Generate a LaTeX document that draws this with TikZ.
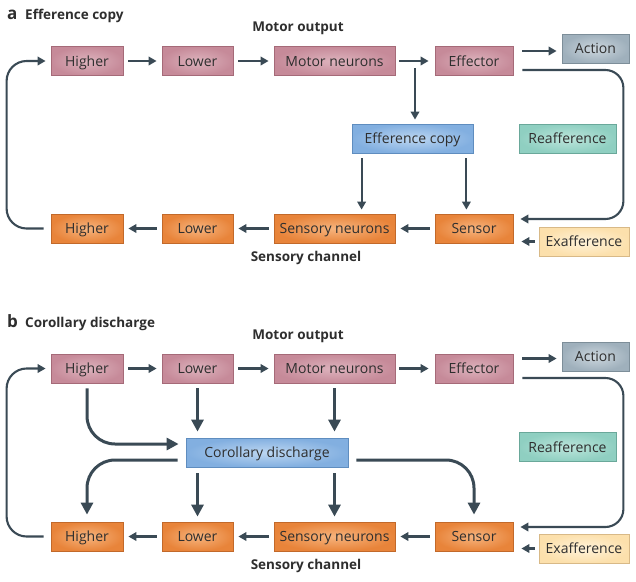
\documentclass[tikz,border=0pt]{standalone}
\usepackage{fontspec}
\setmainfont{Open Sans}
\usetikzlibrary{arrows.meta,calc}
\definecolor{ln}{HTML}{3A4A55}
\definecolor{txt}{HTML}{2E2E2E}
\definecolor{motD}{HTML}{A56A78}\definecolor{motO}{HTML}{C68A99}\definecolor{motL}{HTML}{DDB3BD}
\definecolor{senD}{HTML}{C2692A}\definecolor{senO}{HTML}{E8843A}\definecolor{senL}{HTML}{F6B47E}
\definecolor{bluD}{HTML}{5F8DBF}\definecolor{bluO}{HTML}{82AFE0}\definecolor{bluL}{HTML}{BCD6F1}
\definecolor{teaD}{HTML}{6AA89A}\definecolor{teaO}{HTML}{8FCFC1}\definecolor{teaL}{HTML}{BCE5DB}
\definecolor{creD}{HTML}{D8B987}\definecolor{creO}{HTML}{FCE0AC}\definecolor{creL}{HTML}{FFF3DA}
\definecolor{actD}{HTML}{7D8E99}\definecolor{actO}{HTML}{9FB0BC}\definecolor{actL}{HTML}{CDD7DE}
\begin{document}
\begin{tikzpicture}[x=1pt,y=-1pt,
  box/.style={draw, line width=0.8pt, minimum height=29pt, inner sep=0pt, text=txt,
    text height=10pt, text depth=0pt, font=\fontsize{14}{15}\selectfont},
  motor/.style={box, draw=motD, inner color=motL, outer color=motO},
  sens/.style={box, draw=senD, inner color=senL, outer color=senO},
  blu/.style={box, draw=bluD, inner color=bluL, outer color=bluO},
  tea/.style={box, draw=teaD, inner color=teaL, outer color=teaO},
  cre/.style={box, draw=creD, inner color=creL, outer color=creO},
  act/.style={box, draw=actD, inner color=actL, outer color=actO},
  thin/.style={draw=ln, line width=2.1pt, -{Triangle[length=8pt,width=8.5pt]}},
  thk/.style={draw=ln, line width=3pt, -{Triangle[length=12pt,width=12pt]}},
  ttl/.style={text=txt, font=\bfseries\fontsize{13.5}{14}\selectfont, inner sep=0pt},
  lett/.style={text=txt, font=\bfseries\fontsize{17}{18}\selectfont, inner sep=0pt, anchor=base west}
]
\useasboundingbox (0,0) rectangle (636,581);

% ---------------- panel a ----------------
\node[lett] (la) at (7,19) {a};
\node[ttl, anchor=base west] (ta) at (25,19) {Efference copy};
\node[ttl] (amo) at (298,28) {Motor output};
\node[ttl] (asc) at (306,258) {Sensory channel};

\node[motor, minimum width=72pt] (aah) at (87,61) {Higher};
\node[motor, minimum width=71pt] (aal) at (197.5,61) {Lower};
\node[motor, minimum width=121pt] (amn) at (334.5,61) {Motor neurons};
\node[motor, minimum width=78pt] (aef) at (474,61) {Effector};
\node[act, minimum width=67pt] (aac) at (595.5,48.5) {Action};
\node[blu, minimum width=121pt] (aec) at (412.5,138.5) {Efference copy};
\node[tea, minimum width=97pt] (are) at (567.5,138.5) {Reafference};
\node[sens, minimum width=72pt] (abh) at (87,228.5) {Higher};
\node[sens, minimum width=71pt] (abl) at (197.5,228.5) {Lower};
\node[sens, minimum width=121pt] (asn) at (334.5,228.5) {Sensory neurons};
\node[sens, minimum width=78pt] (ase) at (474,228.5) {Sensor};
\node[cre, minimum width=90pt] (aex) at (584,241.5) {Exafference};

\draw[thin, shorten <=5pt, shorten >=5pt] (aah) -- (aal);
\draw[thin, shorten <=5pt, shorten >=5pt] (aal) -- (amn);
\draw[thin, shorten <=4pt, shorten >=6pt] (amn) -- (aef);
\coordinate (aa1) at ($(aef.east)+(9,-10)$);
\draw[thin] (aa1) -- ($(aac.west |- aa1)+(-5,0)$);
\coordinate (asp) at ($(amn.east)!0.5!(aef.west)+(0,7)$);
\draw[thin, shorten >=4pt] (asp) -- (asp |- aec.north);
\draw[thin, rounded corners=18pt] ($(aef.east)+(9,9)$) -- ($(aef.east)+(110,9)$)
  -- ($(ase.east)+(110,-9.5)$) -- ($(ase.east)+(7,-9.5)$);
\draw[thin] ($(aex.west)+(-4,0)$) -- ($(ase.east |- aex)+(8,0)$);
\coordinate (aeb1) at ($(aec.south west)+(10,5)$);
\coordinate (aeb2) at ($(aec.south east)+(-7,5)$);
\draw[thin, shorten >=4pt] (aeb1) -- (aeb1 |- asn.north);
\draw[thin, shorten >=4pt] (aeb2) -- (aeb2 |- ase.north);
\draw[thin, shorten <=5pt, shorten >=5pt] (ase) -- (asn);
\draw[thin, shorten <=5pt, shorten >=5pt] (asn) -- (abl);
\draw[thin, shorten <=5pt, shorten >=5pt] (abl) -- (abh);
\draw[thin, rounded corners=20pt] ($(abh.west)+(-7,0)$) -| ($(aah.west)+(-44,0)$) -- ($(aah.west)+(-5,0)$);

% ---------------- panel b ----------------
\node[lett] (lb) at (7,327) {b};
\node[ttl, anchor=base west] (tb) at (25,327) {Corollary discharge};
\node[ttl] (bmo) at (298,336) {Motor output};
\node[ttl] (bsc) at (306,566) {Sensory channel};

\node[motor, minimum width=72pt] (bah) at (87,368.5) {Higher};
\node[motor, minimum width=71pt] (bal) at (197.5,368.5) {Lower};
\node[motor, minimum width=121pt] (bmn) at (334.5,368.5) {Motor neurons};
\node[motor, minimum width=78pt] (bef) at (474,368.5) {Effector};
\node[act, minimum width=67pt] (bac) at (595.5,356.5) {Action};
\node[blu, minimum width=162pt] (bcd) at (267,452.5) {Corollary discharge};
\node[tea, minimum width=97pt] (bre) at (567.5,447) {Reafference};
\node[sens, minimum width=72pt] (bbh) at (87,536.5) {Higher};
\node[sens, minimum width=71pt] (bbl) at (197.5,536.5) {Lower};
\node[sens, minimum width=121pt] (bsn) at (334.5,536.5) {Sensory neurons};
\node[sens, minimum width=78pt] (bse) at (474,536.5) {Sensor};
\node[cre, minimum width=90pt] (bex) at (584,548.5) {Exafference};

\draw[thin, shorten <=5pt, shorten >=5pt] (bah) -- (bal);
\draw[thin, shorten <=5pt, shorten >=5pt] (bal) -- (bmn);
\draw[thin, shorten <=4pt, shorten >=6pt] (bmn) -- (bef);
\coordinate (ba1) at ($(bef.east)+(9,-10)$);
\draw[thin] (ba1) -- ($(bac.west |- ba1)+(-5,0)$);
\draw[thin, rounded corners=18pt] ($(bef.east)+(9,9.5)$) -- ($(bef.east)+(110,9.5)$)
  -- ($(bse.east)+(110,-9.5)$) -- ($(bse.east)+(7,-9.5)$);
\draw[thin] ($(bex.west)+(-4,0)$) -- ($(bse.east |- bex)+(8,0)$);
\draw[thin, shorten <=5pt, shorten >=5pt] (bse) -- (bsn);
\draw[thin, shorten <=5pt, shorten >=5pt] (bsn) -- (bbl);
\draw[thin, shorten <=5pt, shorten >=5pt] (bbl) -- (bbh);
\draw[thin, rounded corners=20pt] ($(bbh.west)+(-7,0)$) -| ($(bah.west)+(-44,0)$) -- ($(bah.west)+(-5,0)$);

% thick arrows
\draw[thk, rounded corners=28pt] ($(bah.south)+(0,5)$) |- ($(bcd.west)+(-7,-8.5)$);
\draw[thk, shorten <=5pt, shorten >=6pt] (bal.south) -- (bal.south |- bcd.north);
\draw[thk, shorten <=5pt, shorten >=6pt] (bmn.south) -- (bmn.south |- bcd.north);
\draw[thk, rounded corners=28pt] ($(bcd.west)+(-8,7.5)$) -| ($(bbh.north)+(0,-7)$);
\draw[thk, shorten <=6pt, shorten >=5pt] (bal.south |- bcd.south) -- (bbl.north);
\draw[thk, shorten <=6pt, shorten >=5pt] (bmn.south |- bcd.south) -- (bsn.north);
\draw[thk, rounded corners=28pt] ($(bcd.east)+(8,7.5)$) -| ($(bse.north)+(0,-7)$);
\end{tikzpicture}
\end{document}
